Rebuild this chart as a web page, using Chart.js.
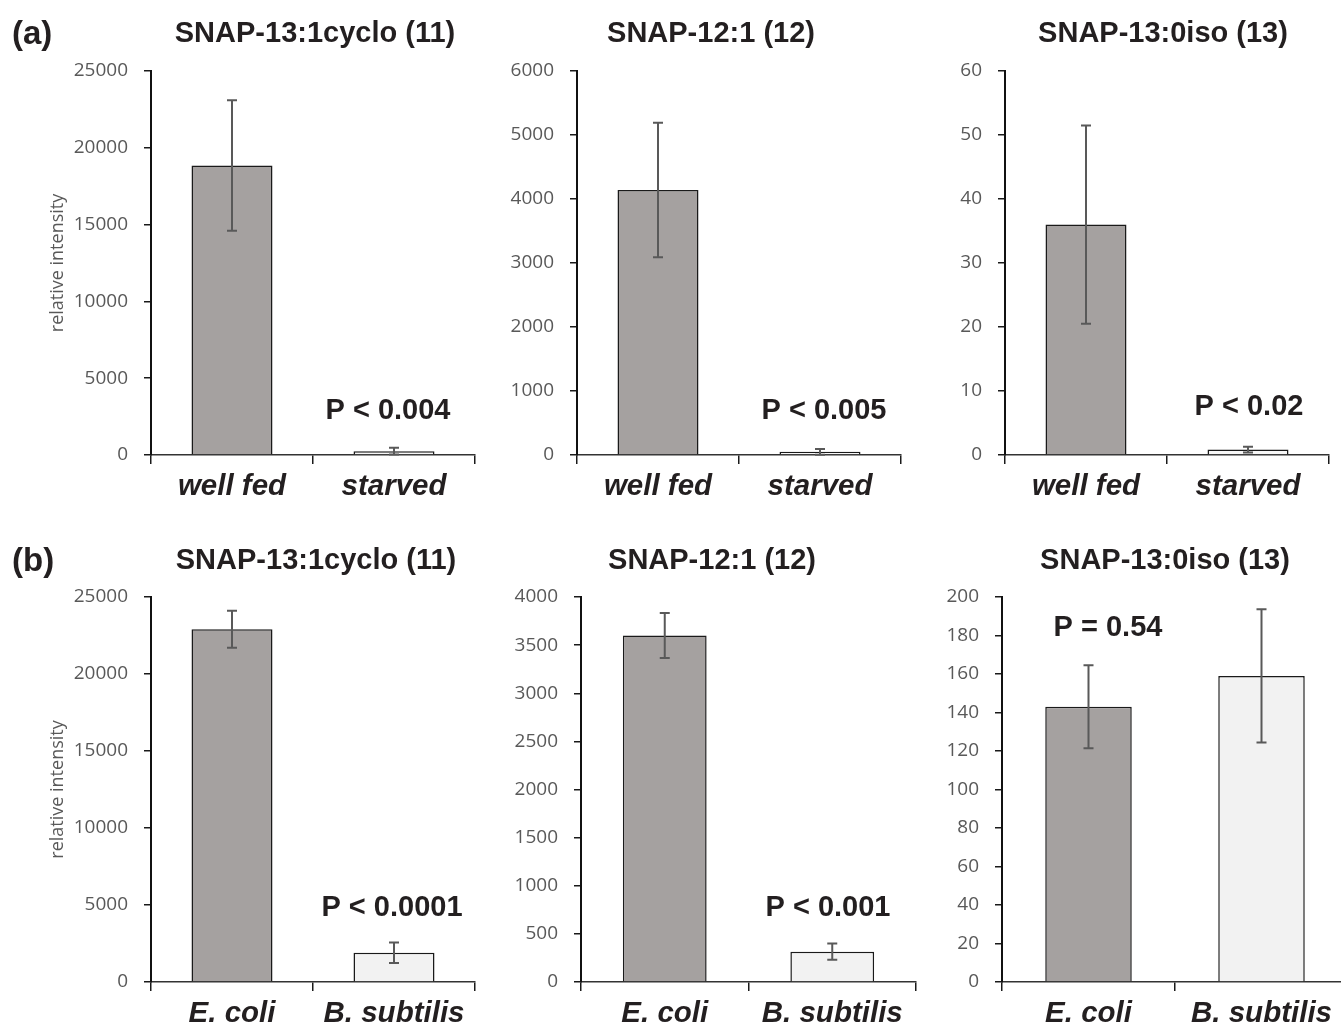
<!DOCTYPE html>
<html>
<head>
<meta charset="utf-8">
<title>SNAP intensities</title>
<script src="https://cdn.jsdelivr.net/npm/chart.js@4.4.1/dist/chart.umd.min.js"></script>
<style>
    html, body { margin: 0; padding: 0; background: #fff; overflow: hidden; }
    #wrap { position: relative; width: 1341px; height: 1027px; overflow: hidden; }
    #wrap canvas { position: absolute; }
</style>
</head>
<body>
<div id="wrap"></div>
<script>
// categories
const fedLabels = ['well fed', 'starved'];
const bacteriaLabels = ['E. coli', 'B. subtilis'];

const panelTitles = [
    'SNAP-13:1cyclo (11)', 'SNAP-12:1 (12)', 'SNAP-13:0iso (13)',
    'SNAP-13:1cyclo (11)', 'SNAP-12:1 (12)', 'SNAP-13:0iso (13)'
];
const pValues = ['P < 0.004', 'P < 0.005', 'P < 0.02', 'P < 0.0001', 'P < 0.001', 'P = 0.54'];

// (a) well fed vs starved : means and error (SD)
const cyclo13Fed = [18850, 250];
const cyclo13FedErr = [4250, 220];
const snap12Fed = [4140, 50];
const snap12FedErr = [1050, 45];
const iso13Fed = [36, 0.85];
const iso13FedErr = [15.5, 0.45];

// (b) E. coli vs B. subtilis diet
const cyclo13Diet = [22900, 1900];
const cyclo13DietErr = [1200, 670];
const snap12Diet = [3600, 315];
const snap12DietErr = [233, 85];
const iso13Diet = [143, 159];
const iso13DietErr = [21.6, 34.6];

// y axis range / ticks
const yMax = [25000, 6000, 60, 25000, 4000, 200];
const yStep = [5000, 1000, 10, 5000, 500, 20];

const GRAY = '#a5a1a0';
const LIGHT_A = '#f7f7f7';
const LIGHT_B = '#f2f2f2';
const TEXT = '#231f20';
const TICK_GRAY = '#595959';

// canvas placement + where the plot area should land
const PANELS = [
    { left: 0,   top: 0,   width: 480, height: 510, padTop: 71, padRight: 5,  yWidth: 151, xHeight: 55, titleX: 315, titleY: 34, pX: 388, pY: 411, axisTitle: true,  tag: '(a)' },
    { left: 480, top: 0,   width: 430, height: 510, padTop: 71, padRight: 9,  yWidth: 97,  xHeight: 55, titleX: 231, titleY: 34, pX: 344, pY: 411 },
    { left: 910, top: 0,   width: 431, height: 510, padTop: 71, padRight: 12, yWidth: 95,  xHeight: 55, titleX: 253, titleY: 34, pX: 339, pY: 407 },
    { left: 0,   top: 510, width: 480, height: 517, padTop: 87, padRight: 5,  yWidth: 151, xHeight: 45, titleX: 316, titleY: 51, pX: 392, pY: 398, axisTitle: true,  tag: '(b)' },
    { left: 480, top: 510, width: 440, height: 517, padTop: 87, padRight: 4,  yWidth: 101, xHeight: 45, titleX: 232, titleY: 51, pX: 348, pY: 398 },
    { left: 920, top: 510, width: 440, height: 517, padTop: 87, padRight: 12, yWidth: 82,  xHeight: 45, titleX: 245, titleY: 51, pX: 188, pY: 118 }
];

const series = [
    { labels: fedLabels, values: cyclo13Fed, errors: cyclo13FedErr, light: LIGHT_A },
    { labels: fedLabels, values: snap12Fed, errors: snap12FedErr, light: LIGHT_A },
    { labels: fedLabels, values: iso13Fed, errors: iso13FedErr, light: LIGHT_A },
    { labels: bacteriaLabels, values: cyclo13Diet, errors: cyclo13DietErr, light: LIGHT_B },
    { labels: bacteriaLabels, values: snap12Diet, errors: snap12DietErr, light: LIGHT_B },
    { labels: bacteriaLabels, values: iso13Diet, errors: iso13DietErr, light: LIGHT_B }
];

const BOLD = 'bold 29px "Liberation Sans", Arial, sans-serif';

// error bars, titles, p-values and panel tags
const decorPlugin = {
    id: 'decor',
    afterDatasetsDraw(chart, args, opts) {
        const ctx = chart.ctx;
        const y = chart.scales.y;
        const meta = chart.getDatasetMeta(0);
        ctx.save();
        ctx.strokeStyle = '#595959';
        ctx.lineWidth = 2;
        opts.values.forEach((v, i) => {
            const x = meta.data[i].x;
            const hi = y.getPixelForValue(v + opts.errors[i]);
            const lo = y.getPixelForValue(Math.max(0, v - opts.errors[i]));
            ctx.beginPath();
            ctx.moveTo(x, hi); ctx.lineTo(x, lo);
            ctx.moveTo(x - 5, hi); ctx.lineTo(x + 5, hi);
            ctx.moveTo(x - 5, lo); ctx.lineTo(x + 5, lo);
            ctx.stroke();
        });
        ctx.restore();
    },
    afterDraw(chart, args, opts) {
        const ctx = chart.ctx;
        const p = opts.panel;
        ctx.save();
        ctx.fillStyle = TEXT;
        ctx.font = BOLD;
        ctx.textAlign = 'center';
        ctx.textBaseline = 'middle';
        ctx.fillText(opts.title, p.titleX, p.titleY);
        ctx.fillText(opts.pValue, p.pX, p.pY);
        if (p.tag) {
            ctx.textAlign = 'left';
            ctx.font = 'bold 33px "Liberation Sans", Arial, sans-serif';
            ctx.fillText(p.tag, 12, p.titleY + 1);
        }
        ctx.restore();
    }
};

const wrap = document.getElementById('wrap');

PANELS.forEach((p, i) => {
    const s = series[i];
    const canvas = document.createElement('canvas');
    canvas.width = p.width;
    canvas.height = p.height;
    canvas.style.left = p.left + 'px';
    canvas.style.top = p.top + 'px';
    wrap.appendChild(canvas);

    new Chart(canvas.getContext('2d'), {
        type: 'bar',
        data: {
            labels: s.labels,
            datasets: [{
                data: s.values,
                backgroundColor: [GRAY, s.light],
                borderColor: '#1a1a1a',
                borderWidth: 1.5,
                barPercentage: 0.5,
                categoryPercentage: 1
            }]
        },
        options: {
            responsive: false,
            animation: false,
            devicePixelRatio: 1,
            layout: { padding: { top: p.padTop, right: p.padRight, left: 0, bottom: 0 } },
            plugins: {
                legend: { display: false },
                tooltip: { enabled: false },
                decor: { panel: p, title: panelTitles[i], pValue: pValues[i], values: s.values, errors: s.errors }
            },
            scales: {
                x: {
                    ticks: {
                        color: TEXT,
                        padding: 8,
                        font: { family: '"Liberation Sans", Arial, sans-serif', size: 29.5, weight: 'bold', style: 'italic', lineHeight: 1 }
                    },
                    grid: { drawOnChartArea: false, offset: true, tickLength: 9, color: '#1a1a1a', lineWidth: 1.5 },
                    border: { color: '#333', width: 1.5 },
                    afterFit(scale) { scale.height = p.xHeight; }
                },
                y: {
                    min: 0,
                    max: yMax[i],
                    ticks: {
                        stepSize: yStep[i],
                        color: TICK_GRAY,
                        padding: 16,
                        font: { family: '"Open Sans", sans-serif', size: 19 },
                        callback: (v) => String(v)
                    },
                    grid: { drawOnChartArea: false, tickLength: 7, color: '#1a1a1a', lineWidth: 1.5 },
                    border: { color: '#111', width: 2 },
                    title: {
                        display: !!p.axisTitle,
                        text: 'relative intensity',
                        color: TICK_GRAY,
                        font: { family: '"Open Sans", sans-serif', size: 18 },
                        padding: { top: 47, bottom: 0 }
                    },
                    afterFit(scale) { scale.width = p.yWidth; }
                }
            }
        },
        plugins: [decorPlugin]
    });
});
</script>
</body>
</html>
